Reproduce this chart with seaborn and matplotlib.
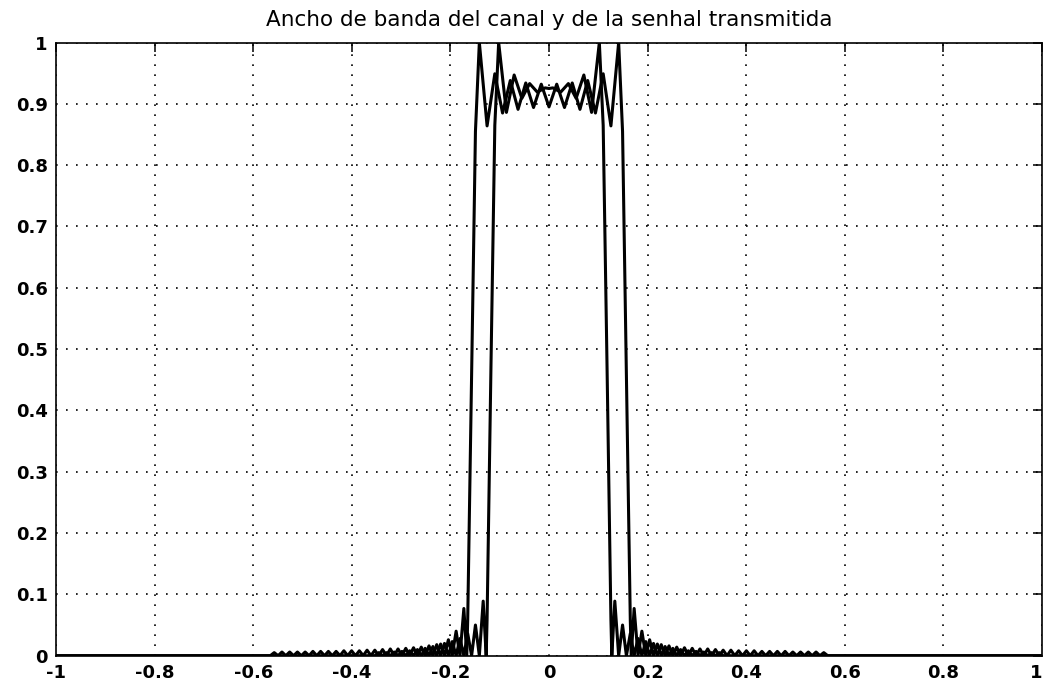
import matplotlib
matplotlib.use("Agg")
import matplotlib.pyplot as plt
import seaborn as sns

# channel response (wider band)
chan_x = [-1.0, -0.3533, -0.3454, -0.3376, -0.3297, -0.3219, -0.3140, -0.3062, -0.2983, -0.2905,
          -0.2826, -0.2748, -0.2669, -0.2591, -0.2512, -0.2434, -0.2355, -0.2277, -0.2198, -0.2120,
          -0.2041, -0.1963, -0.1884, -0.1806, -0.1727, -0.1668, -0.1649, -0.1570, -0.1492, -0.1413,
          -0.1256, -0.1099, -0.0942, -0.0785, -0.0628, -0.0471, -0.0314, -0.0157, 0.0,
          0.0157, 0.0314, 0.0471, 0.0628, 0.0785, 0.0942, 0.1099, 0.1256, 0.1413, 0.1492,
          0.1570, 0.1649, 0.1668, 0.1727, 0.1806, 0.1884, 0.1963, 0.2041, 0.2120, 0.2198,
          0.2277, 0.2355, 0.2434, 0.2512, 0.2591, 0.2669, 0.2748, 0.2826, 0.2905, 0.2983,
          0.3062, 0.3140, 0.3219, 0.3297, 0.3376, 0.3454, 0.3533, 1.0]
chan_y = [0.0, 0.0, 0.005, 0.0, 0.005, 0.0, 0.006, 0.0, 0.007, 0.0,
          0.008, 0.0, 0.010, 0.0, 0.012, 0.0, 0.015, 0.0, 0.019, 0.0,
          0.026, 0.0, 0.040, 0.0, 0.077, 0.0, 0.058, 0.457, 0.855, 1.000,
          0.864, 0.949, 0.885, 0.938, 0.891, 0.934, 0.894, 0.932, 0.895,
          0.932, 0.894, 0.934, 0.891, 0.938, 0.885, 0.949, 0.864, 1.000, 0.855,
          0.457, 0.058, 0.0, 0.077, 0.0, 0.040, 0.0, 0.026, 0.0, 0.019,
          0.0, 0.015, 0.0, 0.012, 0.0, 0.010, 0.0, 0.008, 0.0, 0.007,
          0.0, 0.006, 0.0, 0.005, 0.0, 0.005, 0.0, 0.0]

# transmitted signal (narrower band)
sig_x = [-1.0, -0.5653, -0.5574, -0.5495, -0.5417, -0.5338, -0.5260, -0.5181, -0.5103, -0.5024,
         -0.4946, -0.4867, -0.4789, -0.4710, -0.4632, -0.4553, -0.4475, -0.4396, -0.4318, -0.4239,
         -0.4161, -0.4082, -0.4004, -0.3925, -0.3847, -0.3768, -0.3690, -0.3611, -0.3533, -0.3454,
         -0.3376, -0.3297, -0.3219, -0.3140, -0.3062, -0.2983, -0.2905, -0.2826, -0.2748, -0.2669,
         -0.2591, -0.2512, -0.2434, -0.2355, -0.2277, -0.2198, -0.2120, -0.2041, -0.1963, -0.1884,
         -0.1806, -0.1727, -0.1649, -0.1570, -0.1492, -0.1413, -0.1335, -0.1274, -0.1256, -0.1178,
         -0.1099, -0.1021, -0.0864, -0.0707, -0.0550, -0.0393, -0.0236, -0.0079, 0.0,
         0.0079, 0.0236, 0.0393, 0.0550, 0.0707, 0.0864, 0.1021, 0.1099, 0.1178, 0.1256,
         0.1274, 0.1335, 0.1413, 0.1492, 0.1570, 0.1649, 0.1727, 0.1806, 0.1884, 0.1963,
         0.2041, 0.2120, 0.2198, 0.2277, 0.2355, 0.2434, 0.2512, 0.2591, 0.2669, 0.2748,
         0.2826, 0.2905, 0.2983, 0.3062, 0.3140, 0.3219, 0.3297, 0.3376, 0.3454, 0.3533,
         0.3611, 0.3690, 0.3768, 0.3847, 0.3925, 0.4004, 0.4082, 0.4161, 0.4239, 0.4318,
         0.4396, 0.4475, 0.4553, 0.4632, 0.4710, 0.4789, 0.4867, 0.4946, 0.5024, 0.5103,
         0.5181, 0.5260, 0.5338, 0.5417, 0.5495, 0.5574, 0.5653, 1.0]
sig_y = [0.0, 0.0, 0.005, 0.0, 0.006, 0.0, 0.006, 0.0, 0.006, 0.0,
         0.006, 0.0, 0.007, 0.0, 0.007, 0.0, 0.007, 0.0, 0.007, 0.0,
         0.008, 0.0, 0.008, 0.0, 0.008, 0.0, 0.009, 0.0, 0.009, 0.0,
         0.010, 0.0, 0.011, 0.0, 0.011, 0.0, 0.012, 0.0, 0.013, 0.0,
         0.014, 0.0, 0.016, 0.0, 0.018, 0.0, 0.020, 0.0, 0.023, 0.0,
         0.028, 0.0, 0.036, 0.0, 0.050, 0.0, 0.089, 0.0, 0.059, 0.468,
         0.865, 1.000, 0.886, 0.947, 0.909, 0.933, 0.919, 0.926, 0.925,
         0.926, 0.919, 0.933, 0.909, 0.947, 0.886, 1.000, 0.865, 0.468, 0.059,
         0.0, 0.089, 0.0, 0.050, 0.0, 0.036, 0.0, 0.028, 0.0, 0.023,
         0.0, 0.020, 0.0, 0.018, 0.0, 0.016, 0.0, 0.014, 0.0, 0.013,
         0.0, 0.012, 0.0, 0.011, 0.0, 0.011, 0.0, 0.010, 0.0, 0.009,
         0.0, 0.009, 0.0, 0.008, 0.0, 0.008, 0.0, 0.008, 0.0, 0.007,
         0.0, 0.007, 0.0, 0.007, 0.0, 0.007, 0.0, 0.006, 0.0, 0.006,
         0.0, 0.006, 0.0, 0.006, 0.0, 0.005, 0.0, 0.0]

x_ticks = [-1, -0.8, -0.6, -0.4, -0.2, 0, 0.2, 0.4, 0.6, 0.8, 1]
x_tick_labels = ["-1", "-0.8", "-0.6", "-0.4", "-0.2", "0", "0.2", "0.4", "0.6", "0.8", "1"]
y_ticks = [0, 0.1, 0.2, 0.3, 0.4, 0.5, 0.6, 0.7, 0.8, 0.9, 1]
y_tick_labels = ["0", "0.1", "0.2", "0.3", "0.4", "0.5", "0.6", "0.7", "0.8", "0.9", "1"]
title = "Ancho de banda del canal y de la senhal transmitida"

sns.set_style("white")
plt.rcParams['font.family'] = ['DejaVu Sans']
plt.rcParams['text.color'] = 'black'

fig = plt.figure(figsize=(10.43, 6.90), dpi=100)
ax = fig.add_axes([56 / 1043, 1 - 655.7 / 690, 986 / 1043, 613.2 / 690])

sns.lineplot(x=chan_x, y=chan_y, color="black", linewidth=2.2, estimator=None, sort=False, ax=ax)
sns.lineplot(x=sig_x, y=sig_y, color="black", linewidth=2.2, estimator=None, sort=False, ax=ax)

ax.set_xlim(-1, 1)
ax.set_ylim(0, 1)
ax.set_xticks(x_ticks)
ax.set_xticklabels(x_tick_labels, fontweight="bold", fontsize=13)
ax.get_xticklabels()[-1].set_horizontalalignment("right")
ax.set_yticks(y_ticks)
ax.set_yticklabels(y_tick_labels, fontweight="bold", fontsize=13)
ax.grid(True, color="black", linestyle=(0, (1, 5)), linewidth=1.2)
ax.tick_params(direction="in", length=6.5, width=1.1, top=True, right=True, pad=6, colors="black")
for s in ax.spines.values():
    s.set_color("black")
    s.set_linewidth(1.2)

ax.set_title(title, fontsize=15.5, pad=12, color="black")

fig.savefig("out.png", dpi=100)
